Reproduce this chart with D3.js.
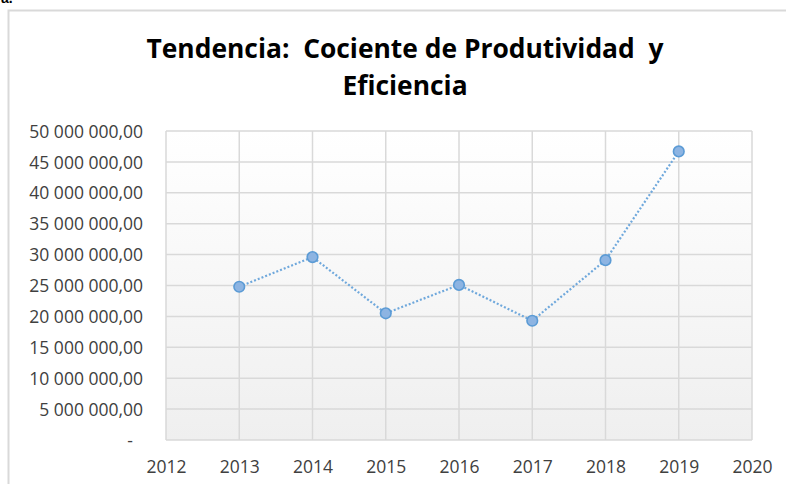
<!DOCTYPE html>
<html>
<head>
<meta charset="utf-8">
<script src="https://cdn.jsdelivr.net/npm/d3@7"></script>
<style>
  body { margin: 0; background: #fff; }
  svg { display: block; }
  .title { white-space: pre; }
</style>
</head>
<body>
<svg id="chart"></svg>
<script>
// Data
const years = [2013, 2014, 2015, 2016, 2017, 2018, 2019]
const values = [24800000, 29600000, 20500000, 25100000, 19300000, 29100000, 46700000]
const xTicks = [2012, 2013, 2014, 2015, 2016, 2017, 2018, 2019, 2020]
const yTicks = [0, 5e6, 10e6, 15e6, 20e6, 25e6, 30e6, 35e6, 40e6, 45e6, 50e6]
const titleLines = ["Tendencia:  Cociente de Produtividad  y", "Eficiencia"]

const W = 786, H = 484
const plot = {left: 166, top: 131, right: 752, bottom: 440}

const svg = d3.select("#chart").attr("width", W).attr("height", H)

// chart frame (cropped at right/bottom)
svg.append("path")
  .attr("d", `M8.5,${H} V10.5 H${W}`)
  .attr("fill", "none").attr("stroke", "#d9d9d9").attr("stroke-width", 2)

// cropped text above the frame
svg.append("text").attr("x", 1).attr("y", 3)
  .attr("font-family", "Liberation Sans, Arial").attr("font-weight", "bold")
  .attr("font-size", 14).attr("fill", "#000").text("a.")

// background gradient
const defs = svg.append("defs")
const grad = defs.append("linearGradient").attr("id", "bg").attr("x1", 0).attr("y1", 0).attr("x2", 0).attr("y2", 1)
grad.append("stop").attr("offset", "0%").attr("stop-color", "#ffffff")
grad.append("stop").attr("offset", "100%").attr("stop-color", "#efefef")

const xScale = d3.scaleLinear().domain([2012, 2020]).range([plot.left, plot.right])
const yScale = d3.scaleLinear().domain([0, 50e6]).range([plot.bottom, plot.top])

svg.append("rect")
  .attr("x", plot.left).attr("y", plot.top)
  .attr("width", plot.right - plot.left).attr("height", plot.bottom - plot.top)
  .attr("fill", "url(#bg)")

// gridlines
svg.selectAll(".hgrid").data(yTicks).join("line").attr("class", "hgrid")
  .attr("x1", plot.left).attr("x2", plot.right)
  .attr("y1", d => yScale(d)).attr("y2", d => yScale(d))
  .attr("stroke", "#d9d9d9").attr("stroke-width", 1.5)
svg.selectAll(".vgrid").data(xTicks).join("line").attr("class", "vgrid")
  .attr("y1", plot.top).attr("y2", plot.bottom)
  .attr("x1", d => xScale(d)).attr("x2", d => xScale(d))
  .attr("stroke", "#d9d9d9").attr("stroke-width", 1.5)

const fmt = v => v === 0 ? "-" : d3.format(",.2f")(v).replace(/,/g, " ").replace(".", ",")

// axes
const yAxis = svg.append("g").attr("transform", `translate(${plot.left},0)`)
  .call(d3.axisLeft(yScale).tickValues(yTicks).tickFormat(fmt).tickSize(0).tickPadding(23))
yAxis.select(".domain").remove()
yAxis.selectAll("text")
  .attr("font-family", "Open Sans, sans-serif").attr("font-size", 17.5).attr("fill", "#404040")
  .attr("dy", "0.35em")
  .attr("dx", d => d === 0 ? -10 : 0)

const xAxis = svg.append("g").attr("transform", `translate(0,${plot.bottom})`)
  .call(d3.axisBottom(xScale).tickValues(xTicks).tickFormat(d3.format("d")).tickSize(0))
xAxis.select(".domain").remove()
xAxis.selectAll("text")
  .attr("font-family", "Open Sans, sans-serif").attr("font-size", 17.5).attr("fill", "#404040")
  .attr("y", 33).attr("dy", 0)

// title
svg.selectAll(".title").data(titleLines).join("text").attr("class", "title")
  .attr("x", 405).attr("y", (d, i) => 57.5 + i * 37)
  .attr("text-anchor", "middle")
  .attr("font-family", "Open Sans, sans-serif").attr("font-weight", "bold")
  .attr("font-size", 26.4).attr("fill", "#000")
  .text(d => d)

// line
const pts = years.map((y, i) => ({year: y, value: values[i]}))
const line = d3.line().x(d => xScale(d.year)).y(d => yScale(d.value))
svg.append("path").datum(pts)
  .attr("d", line)
  .attr("fill", "none").attr("stroke", "#6fa8dc").attr("stroke-width", 2.2)
  .attr("stroke-dasharray", "2,2")

svg.selectAll(".pt").data(pts).join("circle").attr("class", "pt")
  .attr("cx", d => xScale(d.year)).attr("cy", d => yScale(d.value))
  .attr("r", 5.3)
  .attr("fill", "#8db4e2").attr("stroke", "#5b9bd5").attr("stroke-width", 1.6)
</script>
</body>
</html>
